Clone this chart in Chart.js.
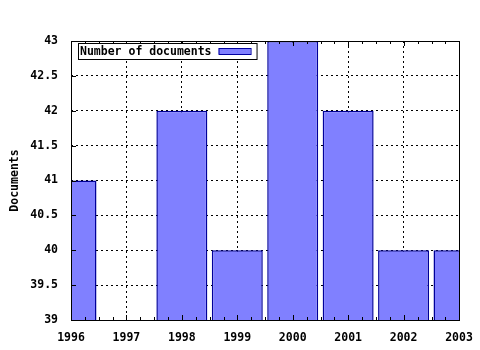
<!DOCTYPE html>
<html>
<head>
<meta charset="utf-8">
<script src="https://cdn.jsdelivr.net/npm/chart.js@4/dist/chart.umd.min.js"></script>
<style>
  body { margin: 0; background: #fff; }
  #wrap { width: 480px; height: 350px; }
</style>
</head>
<body>
<div id="wrap"><canvas id="docsChart"></canvas></div>
<script>
const years = ["1996", "1997", "1998", "1999", "2000", "2001", "2002", "2003"];
const docCounts = [41, null, 42, 40, 43, 42, 40, 40];
const seriesLabel = "Number of documents";
const axisTitle = "Documents";

const monoFont = { family: "'DejaVu Sans Mono', monospace", size: 11.5, weight: "bold" };

// frame, inner ticks and legend box drawn on top of the chart area
const framePlugin = {
    id: "frame",
    afterDraw(chart) {
        const { ctx, chartArea: a, scales } = chart;
        ctx.save();
        ctx.strokeStyle = "#000";
        ctx.lineWidth = 1;

        // x ticks (major + 3 minor between), bottom and top edges
        const xs = scales.x;
        ctx.beginPath();
        for (let i = 0; i < years.length; i++) {
            const px = Math.round(xs.getPixelForValue(i)) + 0.5;
            ctx.moveTo(px, a.bottom); ctx.lineTo(px, a.bottom - 5);
            ctx.moveTo(px, a.top); ctx.lineTo(px, a.top + 5);
            if (i < years.length - 1) {
                const next = xs.getPixelForValue(i + 1);
                for (let k = 1; k < 4; k++) {
                    const mx = Math.round(px + (next - px) * k / 4) + 0.5;
                    ctx.moveTo(mx, a.bottom); ctx.lineTo(mx, a.bottom - 3);
                    ctx.moveTo(mx, a.top); ctx.lineTo(mx, a.top + 3);
                }
            }
        }
        // y ticks on left edge
        const ys = scales.y;
        ys.ticks.forEach(t => {
            const py = Math.round(ys.getPixelForValue(t.value)) + 0.5;
            ctx.moveTo(a.left, py); ctx.lineTo(a.left + 5, py);
        });
        ctx.stroke();

        ctx.strokeRect(Math.round(a.left) + 0.5, Math.round(a.top) + 0.5,
            Math.round(a.right - a.left), Math.round(a.bottom - a.top));

        // legend box inside plot
        ctx.font = "bold 11.5px 'DejaVu Sans Mono', monospace";
        const tw = ctx.measureText(seriesLabel).width;
        const bx = a.left + 7, by = a.top + 2, bh = 16;
        const bw = tw + 47;
        ctx.fillStyle = "#fff";
        ctx.fillRect(bx, by, bw, bh);
        ctx.strokeRect(bx + 0.5, by + 0.5, bw, bh);
        ctx.fillStyle = "#000";
        ctx.textBaseline = "middle";
        ctx.fillText(seriesLabel, bx + 2, by + bh / 2 + 1);
        const sx = bx + tw + 9;
        ctx.fillStyle = "#8080ff";
        ctx.fillRect(sx, by + 5, 32, 6);
        ctx.strokeStyle = "#0000a0";
        ctx.strokeRect(sx + 0.5, by + 5.5, 32, 6);
        ctx.restore();
    }
};

const ctx = document.getElementById("docsChart").getContext("2d");
new Chart(ctx, {
    type: "bar",
    data: {
        labels: years,
        datasets: [{
            label: seriesLabel,
            data: docCounts,
            backgroundColor: "#8080ff",
            borderColor: "#00009a",
            borderWidth: 1.5,
            borderSkipped: false,
            categoryPercentage: 1,
            barPercentage: 0.92
        }]
    },
    options: {
        responsive: true,
        maintainAspectRatio: false,
        animation: false,
        layout: { padding: { top: 41, right: 21, left: 0, bottom: 0 } },
        plugins: {
            legend: { display: false },
            tooltip: { enabled: false }
        },
        scales: {
            x: {
                offset: false,
                grid: { offset: false, color: "#000", drawTicks: false },
                border: { display: false, dash: [2, 3] },
                ticks: { color: "#000", font: monoFont, padding: 11, maxRotation: 0, autoSkip: false },
                afterFit(scale) {
                    scale.height = 30;
                    scale.paddingLeft = 0;
                    scale.paddingRight = 0;
                }
            },
            y: {
                min: 39,
                max: 43,
                grid: { color: "#000", drawTicks: false },
                border: { display: false, dash: [2, 3] },
                ticks: {
                    stepSize: 0.5, color: "#000", font: monoFont, padding: 13,
                    callback: v => String(parseFloat(Number(v).toFixed(1)))
                },
                title: { display: true, text: axisTitle, color: "#000", font: monoFont, padding: { top: 8, bottom: 0 } },
                afterFit(scale) { scale.width = 71; }
            }
        }
    },
    plugins: [framePlugin]
});
</script>
</body>
</html>
